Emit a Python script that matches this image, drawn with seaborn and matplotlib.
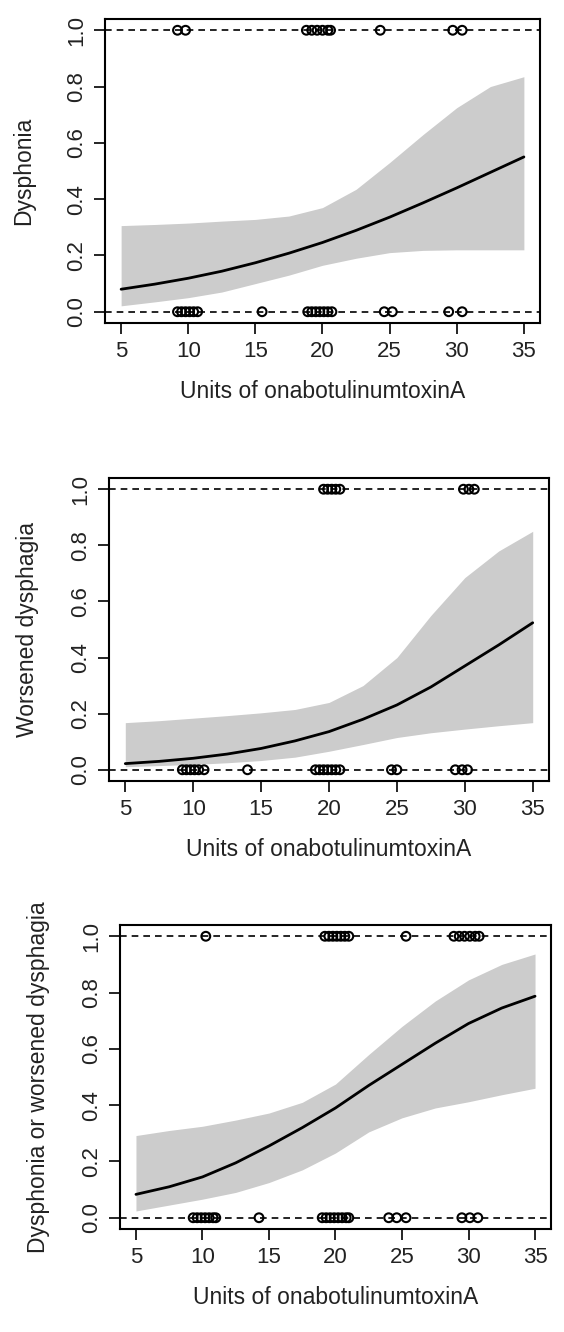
import numpy as np
import pandas as pd
import seaborn as sns
import matplotlib.pyplot as plt

units = [5, 7.5, 10, 12.5, 15, 17.5, 20, 22.5, 25, 27.5, 30, 32.5, 35]

# panel 1 - dysphonia
fit_dysphonia = [0.080, 0.098, 0.119, 0.144, 0.174, 0.208, 0.246, 0.289, 0.336, 0.387, 0.440, 0.495, 0.550]
upper_dysphonia = [0.306, 0.310, 0.315, 0.322, 0.328, 0.340, 0.370, 0.435, 0.530, 0.630, 0.725, 0.800, 0.835]
lower_dysphonia = [0.021, 0.035, 0.050, 0.070, 0.100, 0.130, 0.165, 0.190, 0.210, 0.218, 0.220, 0.220, 0.220]
yes_dysphonia = [9.2, 9.8, 18.8, 19.2, 19.6, 20.0, 20.4, 20.6, 24.3, 29.7, 30.4]
no_dysphonia = [9.2, 9.5, 9.8, 10.1, 10.4, 10.7, 15.5, 18.9, 19.2, 19.5, 19.8, 20.1, 20.4, 20.7,
                24.6, 25.2, 29.4, 30.4]

# panel 2 - worsened dysphagia
fit_dysphagia = [0.022, 0.030, 0.041, 0.056, 0.076, 0.103, 0.136, 0.180, 0.231, 0.295, 0.370, 0.445, 0.524]
upper_dysphagia = [0.168, 0.175, 0.184, 0.193, 0.203, 0.215, 0.240, 0.300, 0.400, 0.550, 0.685, 0.780, 0.850]
lower_dysphagia = [0.011, 0.015, 0.019, 0.025, 0.033, 0.045, 0.066, 0.090, 0.115, 0.132, 0.145, 0.157, 0.168]
yes_dysphagia = [19.6, 19.9, 20.2, 20.5, 20.8, 29.9, 30.3, 30.7]
no_dysphagia = [9.2, 9.5, 9.8, 10.1, 10.4, 10.8, 14.0, 19.0, 19.3, 19.6, 19.9, 20.2, 20.5, 20.8,
                24.6, 25.0, 29.3, 29.8, 30.2]

# panel 3 - either
fit_either = [0.083, 0.110, 0.145, 0.195, 0.255, 0.320, 0.390, 0.470, 0.545, 0.620, 0.690, 0.745, 0.787]
upper_either = [0.292, 0.310, 0.325, 0.347, 0.372, 0.410, 0.475, 0.580, 0.680, 0.770, 0.845, 0.900, 0.937]
lower_either = [0.024, 0.045, 0.066, 0.090, 0.125, 0.170, 0.230, 0.305, 0.355, 0.390, 0.412, 0.437, 0.460]
yes_either = [10.25, 19.2, 19.5, 19.8, 20.1, 20.4, 20.7, 21.0, 25.3, 28.9, 29.3, 29.7, 30.1, 30.5, 30.8]
no_either = [9.3, 9.6, 9.9, 10.2, 10.5, 10.8, 11.0, 14.25, 19.0, 19.3, 19.6, 19.9, 20.2, 20.5, 20.8, 21.0,
             24.0, 24.6, 25.3, 29.5, 30.1, 30.7]

x_ticks = [5, 10, 15, 20, 25, 30, 35]
y_ticks = [0.0, 0.2, 0.4, 0.6, 0.8, 1.0]
x_label = 'Units of onabotulinumtoxinA'

panels = [
    ('Dysphonia', fit_dysphonia, upper_dysphonia, lower_dysphonia, yes_dysphonia, no_dysphonia),
    ('Worsened dysphagia', fit_dysphagia, upper_dysphagia, lower_dysphagia, yes_dysphagia, no_dysphagia),
    ('Dysphonia or worsened dysphagia', fit_either, upper_either, lower_either, yes_either, no_either),
]

sns.set_style('white')
plt.rcParams['font.family'] = ['Liberation Sans', 'DejaVu Sans']

W, H = 564, 1332
fig = plt.figure(figsize=(W / 100, H / 100), dpi=100)

# axes boxes in pixels: left, right, top, bottom
boxes = [(105, 540, 19, 323), (109, 549, 478, 781), (120, 551, 925, 1229)]

for (ylab, fit, up, lo, yes, no), (l, r, t, b) in zip(panels, boxes):
    ax = fig.add_axes([l / W, 1 - b / H, (r - l) / W, (b - t) / H])
    curve = pd.DataFrame({'units': units, 'p': fit, 'lo': lo, 'up': up})
    ax.fill_between(curve['units'], curve['lo'], curve['up'], color='#cccccc', lw=0, zorder=1)
    sns.lineplot(data=curve, x='units', y='p', color='black', lw=2, ax=ax, zorder=3)

    ax.axhline(1, color='black', ls=(0, (4, 3)), lw=1.2, zorder=2)
    ax.axhline(0, color='black', ls=(0, (4, 3)), lw=1.2, zorder=2)

    pts = pd.DataFrame({'units': yes + no, 'outcome': [1] * len(yes) + [0] * len(no)})
    sns.scatterplot(data=pts, x='units', y='outcome', marker='o', s=40,
                    facecolor='none', edgecolor='black', linewidth=1.5, ax=ax, zorder=4)

    ax.set_xlim(3.8, 36.2)
    ax.set_ylim(-0.04, 1.04)
    ax.set_xticks(x_ticks)
    ax.set_yticks(y_ticks)
    ax.set_yticklabels(['%.1f' % v for v in y_ticks], rotation=90, va='center')
    ax.tick_params(direction='out', length=8, width=1.2, labelsize=16, color='black',
                   labelcolor='#222222', bottom=True, left=True, pad=5)
    ax.set_xlabel(x_label, fontsize=16.5, labelpad=13, color='#222222')
    ax.set_ylabel(ylab, fontsize=16.5, labelpad=22, color='#222222')
    for sp in ax.spines.values():
        sp.set_color('black')
        sp.set_linewidth(1.5)

fig.savefig('out.png', dpi=100)
